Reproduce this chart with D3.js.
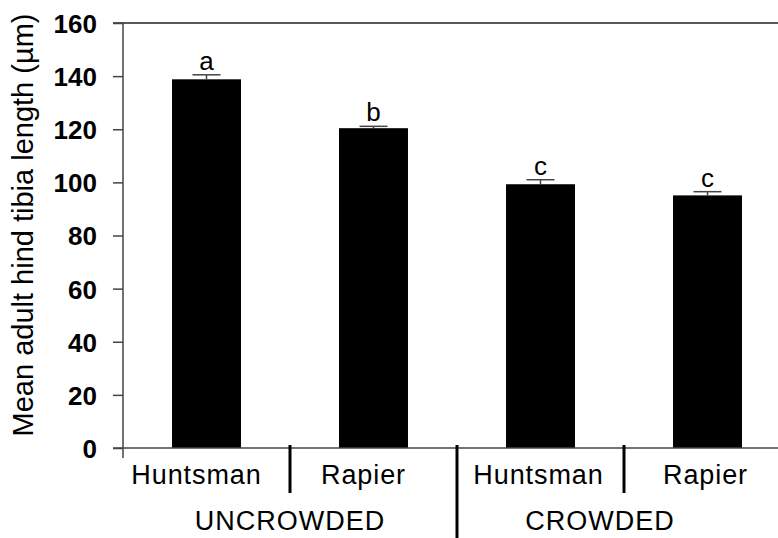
<!DOCTYPE html>
<html><head><meta charset="utf-8">
<script src="https://cdn.jsdelivr.net/npm/d3@7"></script>
<style>
html,body{margin:0;padding:0;background:#fff;}
svg{display:block;font-family:"Liberation Sans",Arial,sans-serif;}
</style></head>
<body><svg id="c" width="778" height="538"></svg>
<script>
// ---- data ----
const categories = ["Huntsman", "Rapier", "Huntsman", "Rapier"];
const groups = ["UNCROWDED", "CROWDED"];
const groupOf = [0, 0, 1, 1];
const means = [138.8, 120.4, 99.3, 95.1];
const errors = [1.7, 0.7, 1.7, 1.4];
const letters = ["a", "b", "c", "c"];
const yTicks = [0, 20, 40, 60, 80, 100, 120, 140, 160];
const yTitle = "Mean adult hind tibia length (\u00b5m)";

(function () {
// ---- layout ----
const svg = d3.select("#c");
const W = 778;
const mLeft = 123, mTop = 23, mBottom = 448, mRight = 791;
const groupLabelDx = [0, -24];
const catLabelDx = [-10, -10, -2, -2];

const y = d3.scaleLinear().domain([0, 160]).range([mBottom, mTop]);
const x = d3.scaleBand().domain(d3.range(categories.length))
  .range([mLeft, mRight]).paddingInner(0.587).paddingOuter(0.2935);
const step = x.step();

// top border
svg.append("line").attr("x1", mLeft - 10).attr("x2", W).attr("y1", mTop).attr("y2", mTop)
  .attr("stroke", "#5a5a5a").attr("stroke-width", 2);

// bars
svg.selectAll("rect.bar").data(means).join("rect")
  .attr("x", (d, i) => x(i)).attr("width", x.bandwidth())
  .attr("y", d => y(d)).attr("height", d => y(0) - y(d))
  .attr("fill", "#000");

// error bars (plus only)
const eg = svg.append("g").attr("stroke", "#444").attr("stroke-width", 1.5);
means.forEach((m, i) => {
  const cx = x(i) + x.bandwidth() / 2;
  eg.append("line").attr("x1", cx).attr("x2", cx).attr("y1", y(m)).attr("y2", y(m + errors[i]));
  eg.append("line").attr("x1", cx - 14).attr("x2", cx + 14).attr("y1", y(m + errors[i])).attr("y2", y(m + errors[i]));
});

// significance letters
svg.selectAll("text.sig").data(letters).join("text")
  .attr("x", (d, i) => x(i) + x.bandwidth() / 2)
  .attr("y", (d, i) => y(means[i] + errors[i]) - 5)
  .attr("text-anchor", "middle").style("font-size", "26px").text(d => d);

// y axis
const ya = svg.append("g").attr("transform", `translate(${mLeft},0)`)
  .call(d3.axisLeft(y).tickValues(yTicks).tickSize(10).tickPadding(15));
ya.select(".domain").remove();
ya.selectAll(".tick line").attr("stroke", "#444").attr("stroke-width", 1.5);
ya.selectAll(".tick text").attr("x", -26).attr("dy", "0.36em").attr("text-anchor", "end")
  .style("font-size", "26px").style("font-weight", "bold")
  .style("font-family", "'Liberation Sans', Arial, sans-serif").attr("fill", "#000");
svg.append("line").attr("x1", mLeft).attr("x2", mLeft).attr("y1", mTop).attr("y2", mBottom + 10)
  .attr("stroke", "#444").attr("stroke-width", 1.5);

// x axis line
svg.append("line").attr("x1", mLeft - 10).attr("x2", W).attr("y1", mBottom).attr("y2", mBottom)
  .attr("stroke", "#444").attr("stroke-width", 1.5);

// category labels
svg.selectAll("text.cat").data(categories).join("text")
  .attr("x", (d, i) => x(i) + x.bandwidth() / 2 + catLabelDx[i])
  .attr("y", mBottom + 36)
  .attr("text-anchor", "middle").style("font-size", "27px")
  .style("letter-spacing", "0.9px").text(d => d);

// dividers
for (let i = 1; i < categories.length; i++) {
  const bx = mLeft + step * i;
  const isLong = groupOf[i] !== groupOf[i - 1];
  svg.append("line").attr("x1", bx).attr("x2", bx).attr("y1", mBottom - 3)
    .attr("y2", isLong ? 538 : mBottom + 45)
    .attr("stroke", "#000").attr("stroke-width", 3);
}

// group labels
groups.forEach((g, gi) => {
  const idx = d3.range(categories.length).filter(i => groupOf[i] === gi);
  const gx = (mLeft + step * idx[0] + mLeft + step * (idx[idx.length - 1] + 1)) / 2;
  svg.append("text").attr("x", gx + groupLabelDx[gi]).attr("y", mBottom + 82)
    .attr("text-anchor", "middle").style("font-size", "27px")
    .style("letter-spacing", "1px").text(g);
});

// y title
svg.append("text").attr("transform", `translate(33,${(13 + 437) / 2}) rotate(-90)`)
  .attr("text-anchor", "middle").style("font-size", "29px").text(yTitle);
})();
</script></body></html>
